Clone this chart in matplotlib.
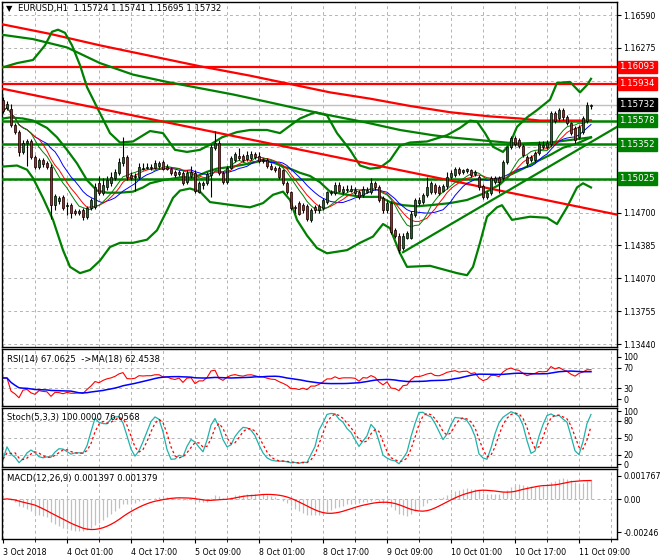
import numpy as np
import pandas as pd
import matplotlib
matplotlib.use('Agg')
import matplotlib.pyplot as plt
import matplotlib.transforms as mtransforms

plt.rcParams['font.family'] = ['DejaVu Sans']

# EURUSD H1 candles, bar 0 = 3 Oct 09:00
opens = [1.1578, 1.1570, 1.1569, 1.1554, 1.1547, 1.1528, 1.1537, 1.1538, 1.1523, 1.1514,
         1.1520, 1.1517, 1.1514, 1.1477, 1.1481, 1.1485, 1.1476, 1.1477, 1.1471, 1.1470,
         1.1472, 1.1466, 1.1474, 1.1475, 1.1498, 1.1489, 1.1494, 1.1498, 1.1503, 1.1508,
         1.1517, 1.1523, 1.1506, 1.1504, 1.1504, 1.1512, 1.1513, 1.1513, 1.1513, 1.1515,
         1.1518, 1.1514, 1.1512, 1.1509, 1.1507, 1.1508, 1.1499, 1.1505, 1.1508, 1.1490,
         1.1496, 1.1498, 1.1506, 1.1532, 1.1537, 1.1508, 1.1499, 1.1513, 1.1520, 1.1524,
         1.1524, 1.1521, 1.1522, 1.1526, 1.1524, 1.1520, 1.1520, 1.1515, 1.1513, 1.1513,
         1.1511, 1.1498, 1.1490, 1.1475, 1.1479, 1.1477, 1.1476, 1.1463, 1.1475, 1.1472,
         1.1474, 1.1480, 1.1489, 1.1489, 1.1496, 1.1490, 1.1492, 1.1491, 1.1489, 1.1490,
         1.1487, 1.1490, 1.1490, 1.1498, 1.1494, 1.1484, 1.1472, 1.1479, 1.1453, 1.1448,
         1.1436, 1.1446, 1.1446, 1.1468, 1.1479, 1.1480, 1.1487, 1.1490, 1.1496, 1.1494,
         1.1491, 1.1495, 1.1504, 1.1506, 1.1512, 1.1509, 1.1510, 1.1511, 1.1507, 1.1504,
         1.1495, 1.1485, 1.1489, 1.1499, 1.1503, 1.1503, 1.1518, 1.1533, 1.1541, 1.1539,
         1.1534, 1.1523, 1.1520, 1.1520, 1.1527, 1.1533, 1.1533, 1.1536, 1.1565, 1.1560,
         1.1568, 1.1561, 1.1556, 1.1551, 1.1542, 1.1547, 1.1558, 1.15724]
highs = [1.1581, 1.1577, 1.1574, 1.1556, 1.1549, 1.1539, 1.1540, 1.1540, 1.1525, 1.1522,
         1.1522, 1.1519, 1.1516, 1.1488, 1.1486, 1.1487, 1.1480, 1.1479, 1.1473, 1.1473,
         1.1474, 1.1476, 1.1484, 1.1498, 1.1505, 1.1503, 1.1505, 1.1509, 1.1512, 1.1522,
         1.1542, 1.1525, 1.1509, 1.1508, 1.1517, 1.1517, 1.1517, 1.1516, 1.1520, 1.1519,
         1.1520, 1.1516, 1.1514, 1.1511, 1.1511, 1.1510, 1.1511, 1.1515, 1.1511, 1.1500,
         1.1500, 1.1509, 1.1536, 1.1548, 1.1539, 1.1510, 1.1515, 1.1524, 1.1528, 1.1532,
         1.1526, 1.1529, 1.1529, 1.1528, 1.1528, 1.1522, 1.1522, 1.1517, 1.1515, 1.1515,
         1.1512, 1.1500, 1.1491, 1.1477, 1.1481, 1.1479, 1.1478, 1.1474, 1.1477, 1.1478,
         1.1484, 1.1491, 1.1492, 1.1499, 1.1499, 1.1495, 1.1496, 1.1496, 1.1494, 1.1492,
         1.1495, 1.1494, 1.1503, 1.1500, 1.1496, 1.1486, 1.1482, 1.1481, 1.1455, 1.1450,
         1.1450, 1.1452, 1.1471, 1.1484, 1.1485, 1.1489, 1.1504, 1.1500, 1.1498, 1.1496,
         1.1497, 1.1509, 1.1511, 1.1514, 1.1514, 1.1512, 1.1513, 1.1512, 1.1511, 1.1506,
         1.1497, 1.1491, 1.1505, 1.1505, 1.1505, 1.1520, 1.1534, 1.1543, 1.1543, 1.1541,
         1.1536, 1.1525, 1.1525, 1.1529, 1.1538, 1.1538, 1.1539, 1.1567, 1.1567, 1.1570,
         1.1570, 1.1563, 1.1557, 1.1553, 1.1554, 1.1562, 1.1576, 1.15741]
lows = [1.1565, 1.1568, 1.1552, 1.1545, 1.1524, 1.1526, 1.1515, 1.1521, 1.1512, 1.1512,
        1.1514, 1.1512, 1.1464, 1.1472, 1.1478, 1.1472, 1.1468, 1.1465, 1.1468, 1.1468,
        1.1463, 1.1464, 1.1472, 1.1473, 1.1487, 1.1487, 1.1492, 1.1495, 1.1501, 1.1506,
        1.1515, 1.1501, 1.1501, 1.1491, 1.1502, 1.1511, 1.1512, 1.1511, 1.1512, 1.1513,
        1.1511, 1.1511, 1.1506, 1.1504, 1.1505, 1.1496, 1.1497, 1.1503, 1.1489, 1.1489,
        1.1493, 1.1496, 1.1485, 1.1530, 1.1506, 1.1497, 1.1497, 1.1512, 1.1518, 1.1520,
        1.1518, 1.1519, 1.1520, 1.1521, 1.1517, 1.1517, 1.1513, 1.1511, 1.1509, 1.1502,
        1.1496, 1.1488, 1.1472, 1.1470, 1.1468, 1.1470, 1.1462, 1.1461, 1.1470, 1.1470,
        1.1472, 1.1478, 1.1487, 1.1487, 1.1490, 1.1488, 1.1490, 1.1490, 1.1487, 1.1483,
        1.1485, 1.1489, 1.1488, 1.1492, 1.1480, 1.1470, 1.1470, 1.1449, 1.1446, 1.1431,
        1.1434, 1.1445, 1.1445, 1.1466, 1.1477, 1.1478, 1.1485, 1.1488, 1.1488, 1.1487,
        1.1490, 1.1493, 1.1502, 1.1504, 1.1506, 1.1507, 1.1508, 1.1504, 1.1505, 1.1492,
        1.1483, 1.1483, 1.1487, 1.1497, 1.1489, 1.1501, 1.1516, 1.1531, 1.1534, 1.1532,
        1.1523, 1.1515, 1.1518, 1.1518, 1.1525, 1.1531, 1.1531, 1.1534, 1.1556, 1.1558,
        1.1559, 1.1554, 1.1544, 1.1537, 1.1540, 1.1545, 1.1556, 1.15695]
closes = [1.1567, 1.1574, 1.1554, 1.1547, 1.1528, 1.1537, 1.1538, 1.1523, 1.1514, 1.1520,
          1.1516, 1.1514, 1.1477, 1.1486, 1.1484, 1.1474, 1.1477, 1.1470, 1.1470, 1.1471,
          1.1466, 1.1474, 1.1482, 1.1494, 1.1489, 1.1496, 1.1501, 1.1504, 1.1509, 1.1518,
          1.1523, 1.1504, 1.1503, 1.1505, 1.1514, 1.1513, 1.1514, 1.1514, 1.1517, 1.1517,
          1.1512, 1.1512, 1.1508, 1.1506, 1.1509, 1.1498, 1.1508, 1.1509, 1.1491, 1.1498,
          1.1498, 1.1507, 1.1533, 1.1537, 1.1508, 1.1499, 1.1513, 1.1522, 1.1526, 1.1522,
          1.1520, 1.1525, 1.1526, 1.1523, 1.1519, 1.1519, 1.1515, 1.1512, 1.1511, 1.1504,
          1.1498, 1.1490, 1.1474, 1.1474, 1.1469, 1.1472, 1.1464, 1.1472, 1.1472, 1.1476,
          1.1482, 1.1490, 1.1490, 1.1496, 1.1491, 1.1493, 1.1493, 1.1493, 1.1492, 1.1485,
          1.1493, 1.1492, 1.1498, 1.1494, 1.1482, 1.1472, 1.1479, 1.1451, 1.1448, 1.1434,
          1.1448, 1.1450, 1.1469, 1.1482, 1.1482, 1.1487, 1.1494, 1.1498, 1.1490, 1.1489,
          1.1495, 1.1504, 1.1508, 1.1512, 1.1508, 1.1511, 1.1512, 1.1506, 1.1509, 1.1494,
          1.1485, 1.1489, 1.1503, 1.1503, 1.1499, 1.1518, 1.1533, 1.1541, 1.1536, 1.1534,
          1.1525, 1.1517, 1.1523, 1.1527, 1.1536, 1.1535, 1.1537, 1.1565, 1.1558, 1.1568,
          1.1561, 1.1556, 1.1546, 1.1539, 1.1552, 1.1560, 1.1573, 1.15732]

time_ticks = [0, 16, 32, 48, 64, 80, 96, 112, 128, 144]
time_labels = ['3 Oct 2018', '4 Oct 01:00', '4 Oct 17:00', '5 Oct 09:00', '8 Oct 01:00',
               '8 Oct 17:00', '9 Oct 09:00', '10 Oct 01:00', '10 Oct 17:00', '11 Oct 09:00']

# envelope lines: (bar position, price)
bb_up_x = [0, 3.5, 7.5, 10.5, 12.25, 13.75, 15.5, 17.25, 19.25, 21, 24.25, 26.75, 29.25, 32.5,
           36.75, 40, 43, 46, 49.25, 52.25, 54.75, 58.5, 61.75, 66, 69.25, 71, 74.25, 78, 81,
           83.5, 86.75, 89.25, 91.75, 94.25, 96.75, 99.25, 101.75, 106, 111, 114.25, 116.75,
           118.5, 120.5, 122.5, 125, 126.75, 128.5, 131, 133.5, 136.75, 138.5, 141.75, 144.25,
           146, 147]
bb_up_y = [1.1609, 1.1613, 1.1616, 1.1630, 1.1643, 1.1645, 1.1642, 1.1630, 1.1611, 1.1590,
           1.1565, 1.1546, 1.1537, 1.1538, 1.1548, 1.1546, 1.1530, 1.1528, 1.1530, 1.1536,
           1.1542, 1.1547, 1.1549, 1.1549, 1.1546, 1.1551, 1.1560, 1.1566, 1.1563, 1.1546,
           1.1530, 1.1515, 1.1512, 1.1513, 1.1520, 1.1534, 1.1537, 1.1538, 1.1544, 1.1551,
           1.1558, 1.1557, 1.1546, 1.1533, 1.1528, 1.1536, 1.1552, 1.1561, 1.1568, 1.1578,
           1.1594, 1.1595, 1.1585, 1.1592, 1.1598]
bb_mid_x = [0, 1.75, 5, 7.5, 11, 13.5, 16, 18.5, 21, 23.5, 26, 29.25, 32.5, 35, 36.75, 40, 45,
            47.5, 51, 53.5, 57.5, 61.75, 65, 67.5, 70, 71.75, 74.25, 76.75, 79.25, 81.75, 86,
            90, 94.25, 96.75, 100, 103.5, 106.75, 111.75, 116, 120, 124.25, 126.75, 130,
            133.5, 136.75, 140, 143.5, 147]
bb_mid_y = [1.1560, 1.1561, 1.1560, 1.1558, 1.1551, 1.1542, 1.1530, 1.1517, 1.1501, 1.1491,
            1.1489, 1.1489, 1.1490, 1.1494, 1.1498, 1.1501, 1.1504, 1.1503, 1.1509, 1.1512,
            1.1514, 1.1517, 1.1520, 1.1518, 1.1514, 1.1512, 1.1508, 1.1505, 1.1499, 1.1490,
            1.1487, 1.1485, 1.1485, 1.1480, 1.1477, 1.1476, 1.1477, 1.1479, 1.1482, 1.1488,
            1.1497, 1.1506, 1.1512, 1.1519, 1.1525, 1.1532, 1.1536, 1.1542]
bb_low_x = [0, 3.5, 6, 7.5, 10, 12.5, 15, 16.75, 19.25, 21.75, 24.25, 26.75, 29.25, 32.5, 36,
            38.5, 41, 42.5, 44.25, 46.75, 49.25, 51.75, 57.5, 61.75, 65, 67.5, 70, 71.75, 73.5,
            76, 78.5, 81, 86, 89.25, 92.5, 95, 96.75, 99.25, 101, 106.75, 113.5, 116, 117.5,
            119.25, 121, 123.5, 124.75, 127.25, 131.75, 136, 138.5, 141, 143.5, 145, 147]
bb_low_y = [1.1514, 1.1515, 1.1511, 1.1503, 1.1484, 1.1463, 1.1434, 1.1418, 1.1412, 1.1415,
            1.1424, 1.1437, 1.1441, 1.1441, 1.1444, 1.1453, 1.1472, 1.1484, 1.1491, 1.1493,
            1.1490, 1.1480, 1.1477, 1.1475, 1.1479, 1.1487, 1.1490, 1.1482, 1.1463, 1.1448,
            1.1436, 1.1431, 1.1434, 1.1441, 1.1447, 1.1459, 1.1455, 1.1431, 1.1418, 1.1419,
            1.1412, 1.1410, 1.1418, 1.1441, 1.1466, 1.1475, 1.1477, 1.1463, 1.1466, 1.1465,
            1.1459, 1.1475, 1.1494, 1.1498, 1.1494]
ma_green_x = [0, 7.5, 11.75, 16, 24.25, 32.5, 41, 49.25, 57.5, 66, 74.25, 81.75, 91, 99.25,
              107.5, 111.75, 120, 128.5, 136.75, 145, 147]
ma_green_y = [1.1640, 1.1636, 1.1632, 1.1628, 1.1613, 1.1602, 1.1595, 1.1589, 1.1583, 1.1576,
              1.1569, 1.1563, 1.1556, 1.1549, 1.1544, 1.1542, 1.1539, 1.1536, 1.1537, 1.1541,
              1.1542]
ma_red_x = [0, 11.75, 24.25, 36.75, 49.25, 61.75, 74.25, 81.75, 91.75, 101.75, 111.75, 121.75,
            129.25, 134.25, 147]
ma_red_y = [1.1650, 1.1641, 1.1630, 1.1620, 1.1610, 1.1601, 1.1591, 1.1585, 1.1579, 1.1572,
            1.1566, 1.1562, 1.1560, 1.1558, 1.1558]

# trend lines (two anchors each)
red_trend_x = [-0.75, 153.5]
red_trend_y = [1.1589, 1.1468]
green_trend_x = [100, 153.5]
green_trend_y = [1.1432, 1.1552]

red_levels = [1.16093, 1.15934]
green_levels = [1.15578, 1.15352, 1.15025]
last_price = 1.15732
price_ticks = [1.16590, 1.16275, 1.15960, 1.15645, 1.15330, 1.15015, 1.14700,
               1.14385, 1.14070, 1.13755, 1.13440]
# scale labels that sit under the level boxes in the reference
covered_ticks = [1.15960, 1.15645, 1.15330, 1.15015]

GREEN = '#008000'
RED = '#ff0000'
GRID = '#b4b4b4'
FS = 5.7

o = np.array(opens)
h = np.array(highs)
l = np.array(lows)
c = np.array(closes)
idx = np.arange(len(c))
cs = pd.Series(c)

# indicators from the candles
ma_blue = cs.rolling(14, min_periods=1).mean()
ma_red_fast = cs.rolling(10, min_periods=1).mean()
ma_green_fast = cs.rolling(8, min_periods=1).mean()

delta = cs.diff().fillna(0)
gain = delta.clip(lower=0).ewm(alpha=1 / 14, adjust=True).mean()
loss = (-delta.clip(upper=0)).ewm(alpha=1 / 14, adjust=True).mean()
rsi = 100 - 100 / (1 + gain / loss.replace(0, np.nan))
rsi = rsi.fillna(50)
rsi_ma = rsi.rolling(18, min_periods=1).mean()

hs = pd.Series(h)
ls = pd.Series(l)
low5 = ls.rolling(5, min_periods=1).min()
high5 = hs.rolling(5, min_periods=1).max()
st_main = 100 * (cs - low5).rolling(3, min_periods=1).sum() / (high5 - low5).rolling(3, min_periods=1).sum()
st_sig = st_main.rolling(3, min_periods=1).mean()

macd = cs.ewm(span=12, adjust=False).mean() - cs.ewm(span=26, adjust=False).mean()
macd_sig = macd.rolling(9, min_periods=1).mean()

fig = plt.figure(figsize=(6.6, 5.6), dpi=100)
L, W = 2 / 660, 615 / 660


def panel(top_px, bot_px):
    return fig.add_axes([L, 1 - bot_px / 560, W, (bot_px - top_px) / 560])


ax = panel(2, 347)
ax_rsi = panel(349, 405.5)
ax_st = panel(407.5, 467)
ax_md = panel(469, 539)

for a in (ax, ax_rsi, ax_st, ax_md):
    a.set_xlim(-0.25, 153.5)
    a.yaxis.tick_right()
    a.tick_params(axis='y', labelsize=FS, length=3, pad=1.5, direction='out')
    a.tick_params(axis='x', labelsize=FS, length=3, direction='out')
    a.set_xticks(range(0, 154, 8), minor=True)
    a.grid(axis='x', which='both', color=GRID, linestyle=(0, (3, 3)), lw=0.7)
    for s in a.spines.values():
        s.set_linewidth(1.0)
    if a is not ax_md:
        a.set_xticks([])
        a.tick_params(axis='x', which='minor', length=0)

# ---- main chart ----
ax.set_ylim(1.13413, 1.16715)
ax.set_yticks(price_ticks)
ax.set_yticklabels(['' if v in covered_ticks else f'{v:.5f}' for v in price_ticks])
ax.grid(axis='y', color=GRID, linestyle=(0, (3, 3)), lw=0.7)
ax.axhline(last_price, color='#c0c0c0', lw=1.0, zorder=2)

for v in red_levels:
    ax.axhline(v, color=RED, lw=1.6, zorder=3)
for v in green_levels:
    ax.axhline(v, color=GREEN, lw=1.8, zorder=3)

ax.plot(ma_red_x, ma_red_y, color=RED, lw=1.6, zorder=3)
ax.plot(ma_green_x, ma_green_y, color=GREEN, lw=1.6, zorder=3)
ax.plot(bb_up_x, bb_up_y, color=GREEN, lw=1.6, zorder=3)
ax.plot(bb_mid_x, bb_mid_y, color=GREEN, lw=1.6, zorder=3)
ax.plot(bb_low_x, bb_low_y, color=GREEN, lw=1.6, zorder=3)
ax.plot(red_trend_x, red_trend_y, color=RED, lw=1.6, zorder=3)
ax.plot(green_trend_x, green_trend_y, color=GREEN, lw=1.6, zorder=3)

ax.plot(idx, ma_blue, color='#0000ff', lw=0.7, zorder=4)
ax.plot(idx, ma_red_fast, color=RED, lw=0.7, zorder=4)
ax.plot(idx, ma_green_fast, color=GREEN, lw=0.7, zorder=4)

up = c >= o
ax.vlines(idx, l, h, color='black', lw=0.8, zorder=5)
body = np.maximum(np.abs(c - o), 0.00002)
ax.bar(idx, body, bottom=np.minimum(o, c), width=0.62,
       color=np.where(up, GREEN, RED), edgecolor='black', linewidth=0.5, zorder=6)

trans = mtransforms.blended_transform_factory(ax.transAxes, ax.transData)
boxes = [(1.16093, RED), (1.15934, RED), (last_price, 'black'),
         (1.15578, GREEN), (1.15352, GREEN), (1.15025, GREEN)]
for v, col in boxes:
    ax.text(1.004, v, f'{v:.5f}', transform=trans, color='white', fontsize=FS + 0.5,
            va='center', ha='left', clip_on=False, zorder=10,
            bbox=dict(boxstyle='square,pad=0.22', fc=col, ec=col))

ax.text(0.006, 0.982, '\u25bc', transform=ax.transAxes, fontsize=6, va='center', ha='left')
ax.text(0.026, 0.982, 'EURUSD,H1  1.15724 1.15741 1.15695 1.15732', transform=ax.transAxes,
        fontsize=FS + 0.4, va='center', ha='left')

# ---- RSI ----
ax_rsi.set_ylim(-3.4, 106.3)
ax_rsi.set_yticks([9.2, 30, 70, 90.8])
ax_rsi.set_yticklabels(['0', '30', '70', '100'])
for v in (30, 70):
    ax_rsi.axhline(v, color=GRID, linestyle=(0, (3, 3)), lw=0.7)
ax_rsi.plot(idx, rsi, color=RED, lw=0.8)
ax_rsi.plot(idx, rsi_ma, color='#0000ff', lw=1.1)
ax_rsi.text(0.008, 0.82, 'RSI(14) 67.0625  ->MA(18) 62.4538', transform=ax_rsi.transAxes,
            fontsize=FS + 0.4, va='center', ha='left')

# ---- Stochastic ----
ax_st.set_ylim(-1.2, 103.8)
ax_st.set_yticks([4, 20, 50, 80, 97])
ax_st.set_yticklabels(['0', '20', '50', '80', '100'])
for v in (20, 50, 80):
    ax_st.axhline(v, color=GRID, linestyle=(0, (3, 3)), lw=0.7)
ax_st.plot(idx, st_main, color='#20b2aa', lw=0.9)
ax_st.plot(idx, st_sig, color=RED, lw=0.9, linestyle=(0, (2, 2)))
ax_st.text(0.008, 0.84, 'Stoch(5,3,3) 100.0000 76.0568', transform=ax_st.transAxes,
           fontsize=FS + 0.4, va='center', ha='left')

# ---- MACD ----
ax_md.set_ylim(-0.00295, 0.00225)
ax_md.set_yticks([-0.00246, 0.0, 0.001767])
ax_md.set_yticklabels(['-0.00246', '0.00', '0.001767'])
ax_md.axhline(0, color=GRID, linestyle=(0, (3, 3)), lw=0.7)
ax_md.vlines(idx, 0, macd, color='#c0c0c0', lw=0.9)
ax_md.plot(idx, macd_sig, color=RED, lw=0.9)
ax_md.set_xticks(time_ticks)
ax_md.set_xticklabels(time_labels, ha='left')
ax_md.text(0.008, 0.87, 'MACD(12,26,9) 0.001397 0.001379', transform=ax_md.transAxes,
           fontsize=FS + 0.4, va='center', ha='left')

plt.savefig('out.png', dpi=100)
plt.close()
